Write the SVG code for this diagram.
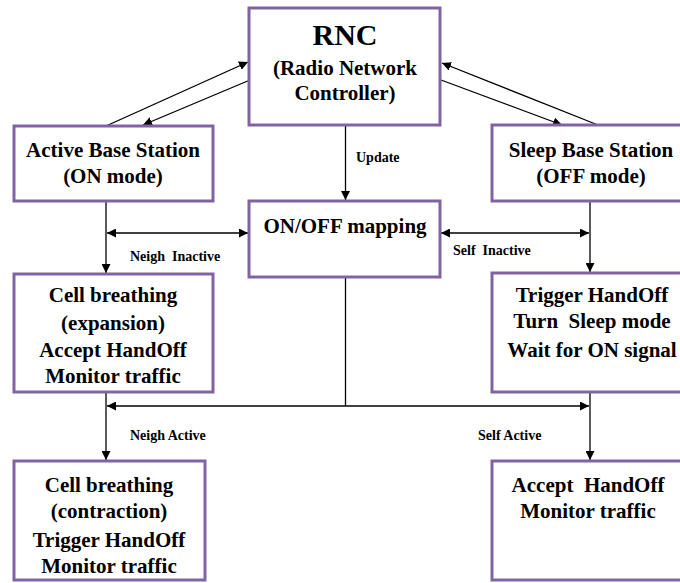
<svg xmlns="http://www.w3.org/2000/svg" width="680" height="583" viewBox="0 0 680 583">
<style>
.box{fill:#fff;stroke:#8064a2;stroke-width:3}
.t{font-family:"Liberation Serif","Times New Roman",serif;font-weight:bold;font-size:21px;fill:#000;text-anchor:middle}
.big{font-size:30px}
.lbl{font-family:"Liberation Serif","Times New Roman",serif;font-weight:bold;font-size:14px;fill:#000}
.c{stroke:#000;stroke-width:1.3;fill:none}
</style>
<defs>
<marker id="ah" viewBox="0 0 10 10" refX="10" refY="5" markerWidth="9" markerHeight="9" markerUnits="userSpaceOnUse" orient="auto-start-reverse">
<path d="M0,0 L10,5 L0,10 z" fill="#000"/>
</marker>
</defs>
<rect width="680" height="583" fill="#fff"/>
<g id="connectors">
<line class="c" x1="106" y1="126" x2="248" y2="62" marker-end="url(#ah)"/>
<line class="c" x1="250" y1="80" x2="143" y2="125" marker-end="url(#ah)"/>
<line class="c" x1="598" y1="125" x2="442" y2="63" marker-end="url(#ah)"/>
<line class="c" x1="441" y1="80" x2="562" y2="125" marker-end="url(#ah)"/>
<line class="c" x1="345.5" y1="126" x2="345.5" y2="200" marker-end="url(#ah)"/>
<line class="c" x1="106" y1="202" x2="106" y2="273" marker-end="url(#ah)"/>
<line class="c" x1="107" y1="233" x2="248" y2="233" marker-start="url(#ah)" marker-end="url(#ah)"/>
<line class="c" x1="590" y1="202" x2="590" y2="272" marker-end="url(#ah)"/>
<line class="c" x1="441" y1="233" x2="589" y2="233" marker-start="url(#ah)" marker-end="url(#ah)"/>
<line class="c" x1="345.5" y1="278" x2="345.5" y2="406"/>
<line class="c" x1="107" y1="406" x2="589" y2="406" marker-start="url(#ah)" marker-end="url(#ah)"/>
<line class="c" x1="106" y1="392" x2="106" y2="460" marker-end="url(#ah)"/>
<line class="c" x1="590" y1="392" x2="590" y2="460" marker-end="url(#ah)"/>
<text class="lbl" x="356" y="162">Update</text>
<text class="lbl" x="130" y="261" xml:space="preserve">Neigh  Inactive</text>
<text class="lbl" x="453" y="255" xml:space="preserve">Self  Inactive</text>
<text class="lbl" x="130" y="440">Neigh Active</text>
<text class="lbl" x="478" y="440">Self Active</text>
</g>
<g id="rnc">
<rect class="box" x="249" y="8" width="191" height="117"/>
<text class="t big" x="345" y="45">RNC</text>
<text class="t" x="345" y="75">(Radio Network</text>
<text class="t" x="345" y="100">Controller)</text>
</g>
<g id="active">
<rect class="box" x="14" y="126" width="199" height="75"/>
<text class="t" x="113" y="157">Active Base Station</text>
<text class="t" x="113" y="183">(ON mode)</text>
</g>
<g id="sleep">
<rect class="box" x="492" y="125" width="200" height="76"/>
<text class="t" x="591" y="157">Sleep Base Station</text>
<text class="t" x="591" y="183">(OFF mode)</text>
</g>
<g id="mapping">
<rect class="box" x="249" y="201" width="191" height="76"/>
<text class="t" x="345" y="233">ON/OFF mapping</text>
</g>
<g id="expansion">
<rect class="box" x="14" y="274" width="199" height="118"/>
<text class="t" x="113" y="302">Cell breathing</text>
<text class="t" x="113" y="330">(expansion)</text>
<text class="t" x="113" y="357">Accept HandOff</text>
<text class="t" x="113" y="383">Monitor traffic</text>
</g>
<g id="sleepmode">
<rect class="box" x="492" y="273" width="200" height="119"/>
<text class="t" x="592" y="302">Trigger HandOff</text>
<text class="t" x="592" y="328" xml:space="preserve">Turn  Sleep mode</text>
<text class="t" x="592" y="357">Wait for ON signal</text>
</g>
<g id="contraction">
<rect class="box" x="14" y="461" width="191" height="119"/>
<text class="t" x="109" y="492">Cell breathing</text>
<text class="t" x="109" y="518">(contraction)</text>
<text class="t" x="109" y="547">Trigger HandOff</text>
<text class="t" x="109" y="573">Monitor traffic</text>
</g>
<g id="accept">
<rect class="box" x="492" y="461" width="200" height="119"/>
<text class="t" x="588" y="492" xml:space="preserve">Accept  HandOff</text>
<text class="t" x="588" y="518">Monitor traffic</text>
</g>
</svg>
